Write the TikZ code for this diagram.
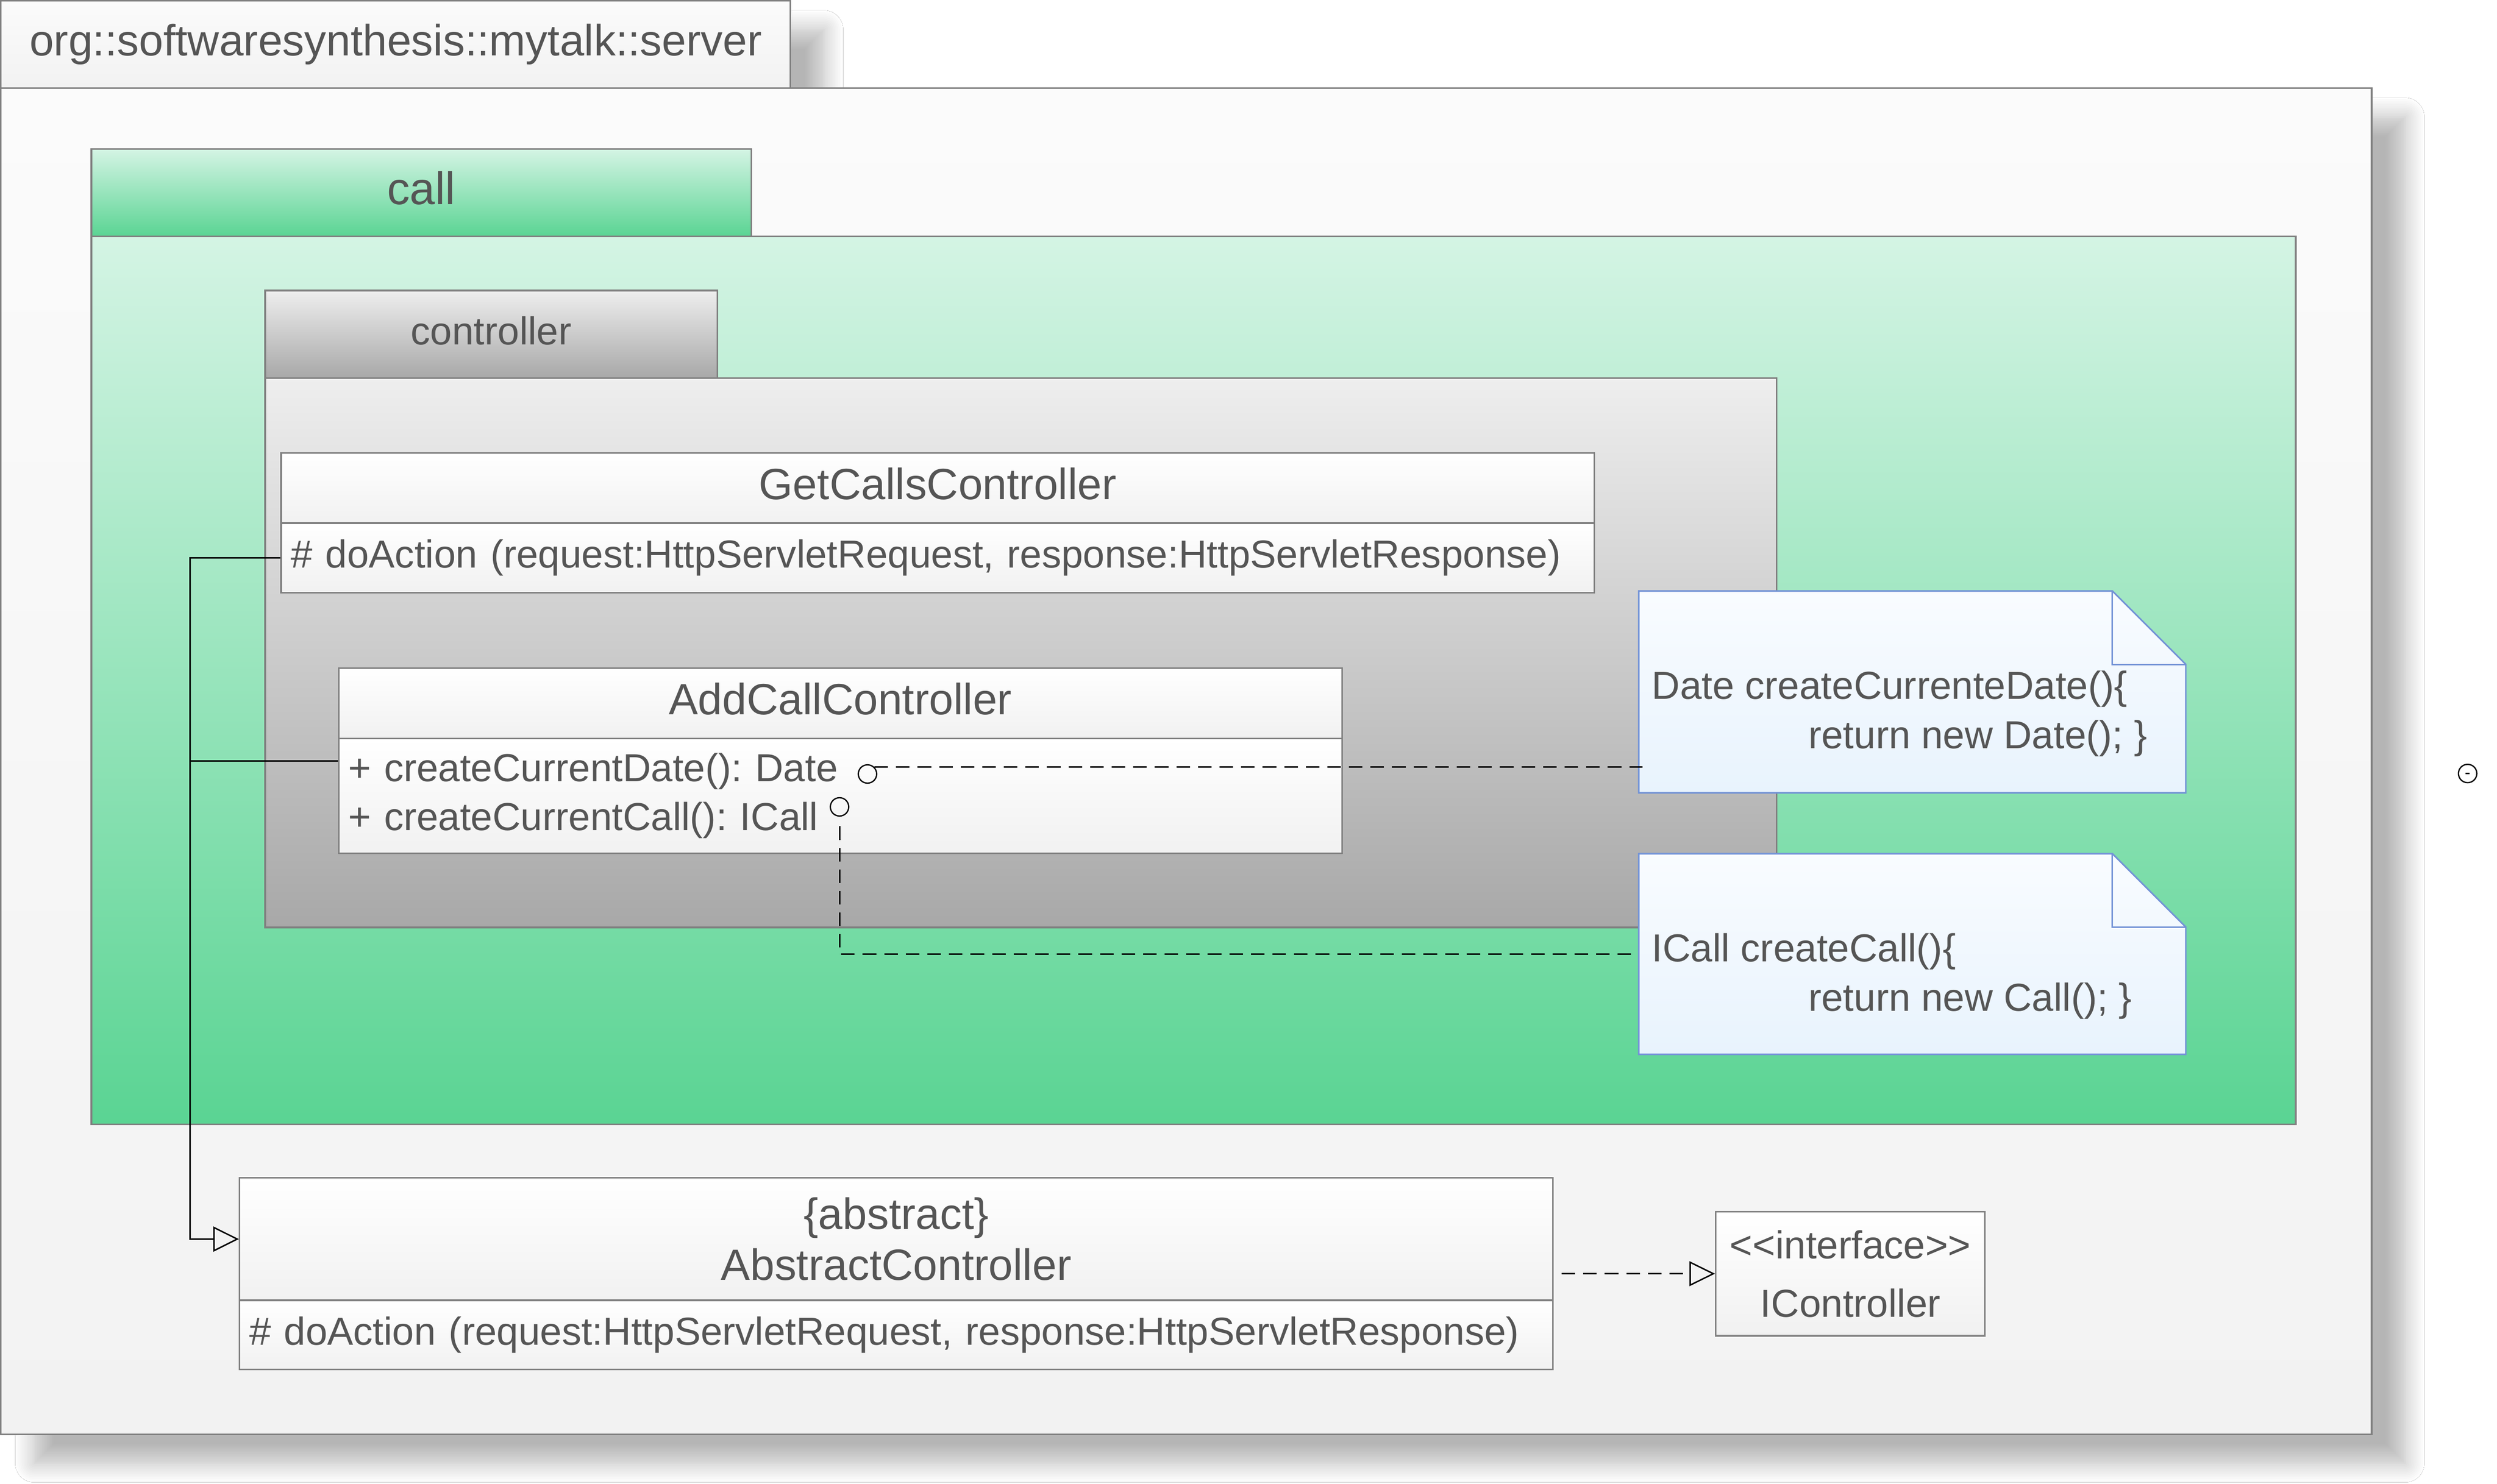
\documentclass[tikz,border=0pt]{standalone}
\usepackage{fontspec}
\setmainfont{Liberation Sans}
\frenchspacing
\usetikzlibrary{arrows.meta,calc,shadows.blur}
\definecolor{ink}{HTML}{555555}
\definecolor{rim}{HTML}{808080}
\definecolor{srvtop}{HTML}{FBFBFB}
\definecolor{srvbot}{HTML}{F2F2F2}
\definecolor{calltop}{HTML}{D4F4E4}
\definecolor{callbot}{HTML}{5AD493}
\definecolor{ctrltop}{HTML}{EEEEEE}
\definecolor{ctrlbot}{HTML}{A8A8A8}
\definecolor{clsbot}{HTML}{F1F1F1}
\definecolor{notetop}{HTML}{F9FCFF}
\definecolor{notebot}{HTML}{E8F3FD}
\definecolor{noterim}{HTML}{7393D6}
\newcommand{\namefont}{\fontsize{27.4}{32}\selectfont}
\newcommand{\memfont}{\fontsize{24.45}{30.8}\selectfont}
\tikzstyle{box}=[rectangle, draw=rim, line width=1pt, inner sep=0pt, text=ink]
\tikzstyle{pkgshadow}=[blur shadow={shadow xshift=21pt, shadow yshift=-18pt, shadow blur radius=12pt, shadow opacity=29, shadow blur steps=12}]
\tikzstyle{srvpkg}=[box, top color=srvtop, bottom color=srvbot]
\tikzstyle{callpkg}=[box, top color=calltop, bottom color=callbot]
\tikzstyle{ctrlpkg}=[box, top color=ctrltop, bottom color=ctrlbot]
\tikzstyle{cls}=[box, top color=white, bottom color=clsbot]
\tikzstyle{clsname}=[cls, font=\namefont, text height=20pt, text depth=5.8pt]
\tikzstyle{clsmem}=[cls, font=\memfont, align=left, inner xsep=6pt]
\tikzstyle{note}=[rectangle, inner sep=0pt]
\tikzstyle{notefill}=[draw=noterim, line width=1pt, top color=notetop, bottom color=notebot]
\tikzstyle{notetxt}=[font=\memfont, text=ink, align=left, inner sep=0pt, anchor=north west]
\tikzstyle{lolli}=[circle, draw=black, line width=0.8pt, minimum size=11.5pt, inner sep=0pt]
\tikzstyle{joinline}=[draw=black, line width=0.9pt]
\tikzstyle{genline}=[joinline, -{Triangle[open, length=16pt, width=15.7pt]}]
\tikzstyle{dashline}=[joinline, dash pattern=on 8.5pt off 5pt]

\begin{document}
\begin{tikzpicture}[x=1pt, y=-1pt]
    \path[fill=white, use as bounding box] (0,0) rectangle (1563,929.3);
    \node[srvpkg, pkgshadow, minimum width=494.3pt, minimum height=54.7pt, font=\namefont, text height=20pt, text depth=5.8pt] (srvtab) at (247.65,27.85) {org::softwaresynthesis::mytalk::server};
    \node[srvpkg, pkgshadow, minimum width=1484pt, minimum height=843.1pt] (srv) at (742.5,476.75) {};
    \node[callpkg, minimum width=413.1pt, minimum height=54.7pt, font=\fontsize{28.5}{34}\selectfont, text height=20.8pt, text depth=6pt] (calltab) at (263.75,120.75) {call};
    \node[callpkg, minimum width=1379.8pt, minimum height=555.9pt] (call) at (747.1,426.05) {};
    \node[ctrlpkg, minimum width=283pt, minimum height=54.8pt, font=\memfont, text height=18pt, text depth=5.2pt] (ctrltab) at (307.5,209.3) {controller};
    \node[ctrlpkg, minimum width=946pt, minimum height=344.1pt] (ctrl) at (639,408.75) {};

    \node[clsname, minimum width=822pt, minimum height=43.9pt] (gcc) at (587,305.65) {GetCallsController};
    \node[clsmem, minimum width=822pt, minimum height=43.5pt, text width=810pt] (gccm) at (587,349.35) {\# doAction (request:HttpServletRequest, response:HttpServletResponse)};
    \node[clsname, minimum width=628pt, minimum height=43.9pt] (acc) at (526,440.45) {AddCallController};
    \node[clsmem, minimum width=628pt, minimum height=71.9pt, text width=616pt] (accm) at (526,498.35) {+ createCurrentDate(): Date\\+ createCurrentCall(): ICall};
    \node[cls, font=\namefont, align=center, minimum width=822pt, minimum height=76.7pt] (abs) at (561,775.95) {\{abstract\}\\AbstractController};
    \node[clsmem, minimum width=822pt, minimum height=43.4pt, text width=810pt] (absm) at (561,836) {\# doAction (request:HttpServletRequest, response:HttpServletResponse)};
    \node[cls, font=\memfont, align=center, minimum width=168.5pt, minimum height=77.7pt] (ictl) at (1158.25,797.65) {<\kern0pt<interface>\kern0pt>\\[5.8pt]IController};

    \node[note, minimum width=342pt, minimum height=126pt] (note1) at (1197,433.3) {};
    \path[notefill] (note1.north west) -- ($(note1.north east)+(-46,0)$) -- ($(note1.north east)+(0,46)$) -- (note1.south east) -- (note1.south west) -- cycle;
    \draw[noterim, line width=1pt] ($(note1.north east)+(-46,0)$) |- ($(note1.north east)+(0,46)$);
    \node[notetxt] (note1t) at ($(note1.north west)+(8,49.8)$) {Date createCurrenteDate()\{\\\hspace*{98pt}return new Date(); \}};
    \node[note, minimum width=342pt, minimum height=125.3pt] (note2) at (1197,597.45) {};
    \path[notefill] (note2.north west) -- ($(note2.north east)+(-46,0)$) -- ($(note2.north east)+(0,46)$) -- (note2.south east) -- (note2.south west) -- cycle;
    \draw[noterim, line width=1pt] ($(note2.north east)+(-46,0)$) |- ($(note2.north east)+(0,46)$);
    \node[notetxt] (note2t) at ($(note2.north west)+(8,49.7)$) {ICall createCall()\{\\\hspace*{98pt}return new Call(); \}};

    \node[lolli] (c1) at (543,484.7) {};
    \node[lolli] (c2) at (525.5,505.3) {};
    \node[lolli] (orphan) at (1544.6,484.4) {};
    \draw[line width=0.8pt] ($(orphan.center)+(-1.2,0)$) -- ($(orphan.center)+(1.2,0)$);

    \coordinate (bend) at (119,776);
    \draw[genline] (gccm.west) -| (bend) -- (abs.west);
    \draw[joinline] ($(accm.west)+(0,-21.85)$) -| (bend);
    \draw[dashline, -{Triangle[open, length=16pt, width=15.5pt]}] ($(absm.east |- ictl.west)+(5,0)$) -- (ictl.west);
    \draw[dashline] (c1.45) -| ($(c1.45 -| note1.west)+(2,-5.5)$);
    \draw[dashline] ($(c2.south)+(0,6)$) |- (note2.west);
\end{tikzpicture}
\end{document}
